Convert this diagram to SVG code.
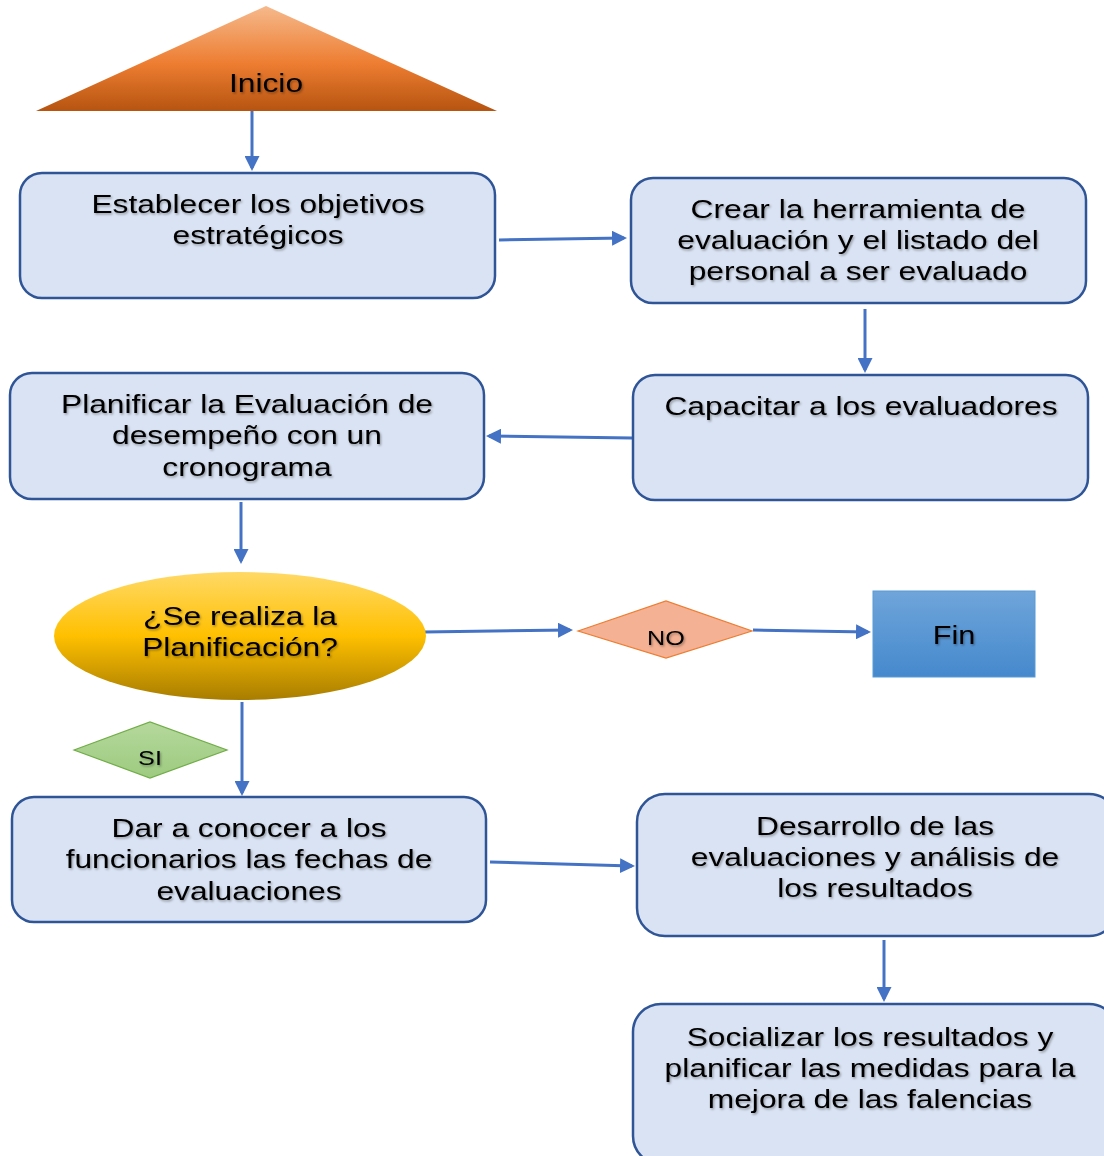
<svg xmlns="http://www.w3.org/2000/svg" width="1104" height="1156" viewBox="0 0 1104 1156">
<style>
.box{fill:#dae3f3;stroke:#2f5597;stroke-width:2.5}
.t{font-family:"Liberation Sans",Arial,sans-serif;font-size:26px;fill:#000;text-anchor:middle;filter:url(#sh)}
.s{font-size:21px}
.c{stroke:#4472c4;stroke-width:3;fill:none;marker-end:url(#ah)}
</style>
<defs>
<marker id="ah" markerWidth="5" markerHeight="5" refX="4" refY="2.5" orient="auto" markerUnits="strokeWidth"><path d="M0,0 L5,2.5 L0,5 Z" fill="#4472c4"/></marker>
<linearGradient id="gTri" x1="0" y1="0" x2="0" y2="1"><stop offset="0" stop-color="#f6b98c"/><stop offset="0.55" stop-color="#ed7d31"/><stop offset="1" stop-color="#b65410"/></linearGradient>
<linearGradient id="gEl" x1="0" y1="0" x2="0" y2="1"><stop offset="0" stop-color="#ffd966"/><stop offset="0.5" stop-color="#ffc000"/><stop offset="1" stop-color="#a87d00"/></linearGradient>
<linearGradient id="gFin" x1="0" y1="0" x2="0" y2="1"><stop offset="0" stop-color="#6fa5da"/><stop offset="1" stop-color="#4589cd"/></linearGradient>
<linearGradient id="gSi" x1="0" y1="0" x2="0" y2="1"><stop offset="0" stop-color="#b5d89c"/><stop offset="1" stop-color="#9dcb80"/></linearGradient>
<filter id="sh" x="-5%" y="-20%" width="110%" height="140%"><feDropShadow dx="1" dy="1.5" stdDeviation="0.8" flood-color="#000" flood-opacity="0.35"/></filter>
</defs>

<g id="connectors">
<path class="c" d="M252,111 L252,168"/>
<path class="c" d="M499,240 L624,238"/>
<path class="c" d="M865,309 L865,370"/>
<path class="c" d="M632,438 L489,436"/>
<path class="c" d="M241,502 L241,561"/>
<path class="c" d="M424,632 L570,630"/>
<path class="c" d="M753,630 L868,632"/>
<path class="c" d="M242,702 L242,793"/>
<path class="c" d="M490,862 L632,866"/>
<path class="c" d="M884,940 L884,999"/>
</g>

<g id="inicio">
<polygon points="266,6 497,111 36,111" fill="url(#gTri)"/>
<g transform="translate(266,0) scale(1.22,1)"><text class="t" x="0" y="92">Inicio</text></g>
</g>

<g id="establecer">
<rect class="box" x="20" y="173" width="475" height="125" rx="22"/>
<g transform="translate(258,0) scale(1.22,1)">
<text class="t" x="0" y="213">Establecer los objetivos</text>
<text class="t" x="0" y="244">estratégicos</text>
</g>
</g>

<g id="crear">
<rect class="box" x="631" y="178" width="455" height="125" rx="22"/>
<g transform="translate(858,0) scale(1.22,1)">
<text class="t" x="0" y="218">Crear la herramienta de</text>
<text class="t" x="0" y="249">evaluación y el listado del</text>
<text class="t" x="0" y="280">personal a ser evaluado</text>
</g>
</g>

<g id="capacitar">
<rect class="box" x="633" y="375" width="455" height="125" rx="22"/>
<g transform="translate(861,0) scale(1.22,1)">
<text class="t" x="0" y="415">Capacitar a los evaluadores</text>
</g>
</g>

<g id="planificar">
<rect class="box" x="10" y="373" width="474" height="126" rx="22"/>
<g transform="translate(247,0) scale(1.22,1)">
<text class="t" x="0" y="413">Planificar la Evaluación de</text>
<text class="t" x="0" y="444">desempeño con un</text>
<text class="t" x="0" y="476">cronograma</text>
</g>
</g>

<g id="decision">
<ellipse cx="240" cy="636" rx="186" ry="64" fill="url(#gEl)"/>
<g transform="translate(240,0) scale(1.22,1)">
<text class="t" x="0" y="625">¿Se realiza la</text>
<text class="t" x="0" y="656">Planificación?</text>
</g>
</g>

<g id="no">
<polygon points="578,631 666,601 752,631 666,658" fill="#f4b193" stroke="#ed7d31" stroke-width="1.2"/>
<g transform="translate(666,0) scale(1.2,1)"><text class="t s" x="0" y="645">NO</text></g>
</g>

<g id="fin">
<rect x="873" y="591" width="162" height="86" fill="url(#gFin)" stroke="#5b9bd5" stroke-width="1"/>
<g transform="translate(954,0) scale(1.18,1)"><text class="t" x="0" y="644">Fin</text></g>
</g>

<g id="si">
<polygon points="74,750 150,722 227,750 150,778" fill="url(#gSi)" stroke="#70ad47" stroke-width="1.2"/>
<g transform="translate(150,0) scale(1.2,1)"><text class="t s" x="0" y="765">SI</text></g>
</g>

<g id="dar">
<rect class="box" x="12" y="797" width="474" height="125" rx="22"/>
<g transform="translate(249,0) scale(1.22,1)">
<text class="t" x="0" y="837">Dar a conocer a los</text>
<text class="t" x="0" y="868">funcionarios las fechas de</text>
<text class="t" x="0" y="900">evaluaciones</text>
</g>
</g>

<g id="desarrollo">
<rect class="box" x="637" y="794" width="480" height="142" rx="28"/>
<g transform="translate(875,0) scale(1.22,1)">
<text class="t" x="0" y="835">Desarrollo de las</text>
<text class="t" x="0" y="866">evaluaciones y análisis de</text>
<text class="t" x="0" y="897">los resultados</text>
</g>
</g>

<g id="socializar">
<rect class="box" x="633" y="1004" width="484" height="160" rx="28"/>
<g transform="translate(870,0) scale(1.22,1)">
<text class="t" x="0" y="1046">Socializar los resultados y</text>
<text class="t" x="0" y="1077">planificar las medidas para la</text>
<text class="t" x="0" y="1108">mejora de las falencias</text>
</g>
</g>
</svg>
